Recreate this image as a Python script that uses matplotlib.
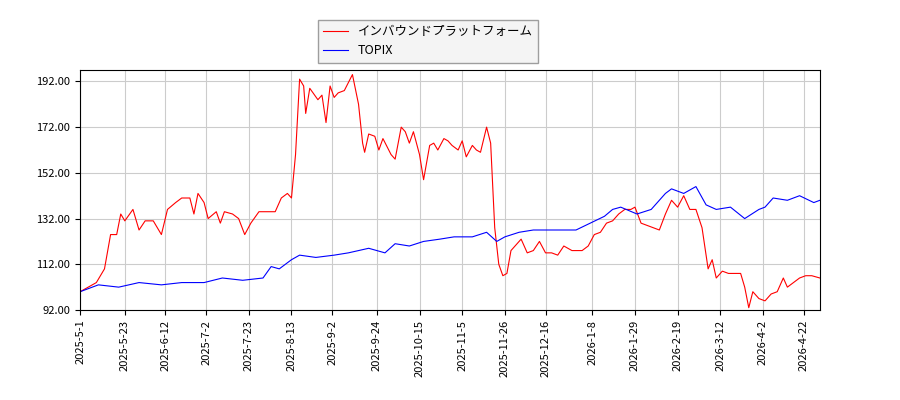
import matplotlib
matplotlib.use("Agg")
import matplotlib.pyplot as plt
import matplotlib.dates as mdates
import pandas as pd

plt.rcParams['font.family'] = ['Noto Sans CJK JP', 'DejaVu Sans']

red_dates = ["2025-05-01","2025-05-05","2025-05-09","2025-05-13","2025-05-16","2025-05-19","2025-05-21","2025-05-23","2025-05-27","2025-05-30",
"2025-06-02","2025-06-06","2025-06-10","2025-06-13","2025-06-17","2025-06-20","2025-06-24","2025-06-26","2025-06-28","2025-07-01",
"2025-07-03","2025-07-07","2025-07-09","2025-07-11","2025-07-15","2025-07-18","2025-07-21","2025-07-24","2025-07-28","2025-08-01",
"2025-08-05","2025-08-08","2025-08-11","2025-08-13","2025-08-15","2025-08-17","2025-08-19","2025-08-20","2025-08-22","2025-08-26",
"2025-08-28","2025-08-30","2025-09-01","2025-09-03","2025-09-05","2025-09-08","2025-09-12","2025-09-15","2025-09-17","2025-09-18",
"2025-09-20","2025-09-23","2025-09-25","2025-09-27","2025-10-01","2025-10-03","2025-10-06","2025-10-08","2025-10-10","2025-10-12",
"2025-10-15","2025-10-17","2025-10-20","2025-10-22","2025-10-24","2025-10-27","2025-10-29","2025-10-31","2025-11-03","2025-11-05",
"2025-11-07","2025-11-10","2025-11-12","2025-11-14","2025-11-17","2025-11-19","2025-11-21","2025-11-23","2025-11-25","2025-11-27",
"2025-11-29","2025-12-01","2025-12-04","2025-12-07","2025-12-10","2025-12-13","2025-12-16","2025-12-19","2025-12-22","2025-12-25",
"2025-12-29","2026-01-03","2026-01-06","2026-01-09","2026-01-12","2026-01-15","2026-01-18","2026-01-21","2026-01-24","2026-01-27",
"2026-01-29","2026-02-01","2026-02-04","2026-02-07","2026-02-10","2026-02-13","2026-02-16","2026-02-19","2026-02-22","2026-02-25",
"2026-02-28","2026-03-03","2026-03-06","2026-03-08","2026-03-10","2026-03-13","2026-03-16","2026-03-19","2026-03-22","2026-03-24",
"2026-03-26","2026-03-28","2026-03-31","2026-04-03","2026-04-06","2026-04-09","2026-04-12","2026-04-14","2026-04-17","2026-04-20",
"2026-04-23","2026-04-26","2026-04-30"]
red_values = [100,102,104,110,125,125,134,131,136,127,
131,131,125,136,139,141,141,134,143,139,
132,135,130,135,134,132,125,130,135,135,
135,141,143,141,160,193,190,178,189,184,
186,174,190,185,187,188,195,182,165,161,
169,168,162,167,160,158,172,170,165,170,
160,149,164,165,162,167,166,164,162,166,
159,164,162,161,172,165,128,112,107,108,
118,120,123,117,118,122,117,117,116,120,
118,118,120,125,126,130,131,134,136,136,
137,130,129,128,127,134,140,137,142,136,
136,128,110,114,106,109,108,108,108,102,
93,100,97,96,99,100,106,102,104,106,
107,107,106]

blue_dates = ["2025-05-01","2025-05-10","2025-05-20","2025-05-30","2025-06-10","2025-06-20","2025-07-01","2025-07-10","2025-07-20","2025-07-30",
"2025-08-03","2025-08-07","2025-08-13","2025-08-17","2025-08-25","2025-09-03","2025-09-10","2025-09-20","2025-09-28","2025-10-03",
"2025-10-10","2025-10-17","2025-10-25","2025-11-01","2025-11-10","2025-11-17","2025-11-22","2025-11-26","2025-12-03","2025-12-10",
"2025-12-17","2025-12-24","2025-12-31","2026-01-07","2026-01-14","2026-01-18","2026-01-22","2026-01-30","2026-02-06","2026-02-13",
"2026-02-16","2026-02-22","2026-02-28","2026-03-05","2026-03-10","2026-03-17","2026-03-24","2026-03-31","2026-04-03","2026-04-07",
"2026-04-14","2026-04-20","2026-04-27","2026-04-30"]
blue_values = [100,103,102,104,103,104,104,106,105,106,
111,110,114,116,115,116,117,119,117,121,
120,122,123,124,124,126,122,124,126,127,
127,127,127,130,133,136,137,134,136,143,
145,143,146,138,136,137,132,136,137,141,
140,142,139,140]

tick_labels = ["2025-5-1","2025-5-23","2025-6-12","2025-7-2","2025-7-23","2025-8-13","2025-9-2","2025-9-24",
"2025-10-15","2025-11-5","2025-11-26","2025-12-16","2026-1-8","2026-1-29","2026-2-19","2026-3-12","2026-4-2","2026-4-22"]

fig = plt.figure(figsize=(9, 4), dpi=100)
ax = fig.add_axes([0.089, 0.225, 0.822, 0.60])
ax.plot(pd.to_datetime(red_dates), red_values, color='red', lw=0.8, label='インバウンドプラットフォーム')
ax.plot(pd.to_datetime(blue_dates), blue_values, color='blue', lw=0.8, label='TOPIX')
ax.set_xlim(pd.Timestamp("2025-05-01"), pd.Timestamp("2026-04-30"))
ax.set_ylim(92, 197)
ax.set_yticks([92, 112, 132, 152, 172, 192])
ax.yaxis.set_major_formatter(matplotlib.ticker.FormatStrFormatter('%.2f'))
ticks = pd.to_datetime(tick_labels)
ax.set_xticks(ticks)
ax.set_xticklabels(tick_labels, rotation=90, fontsize=8)
ax.tick_params(axis='y', labelsize=8)
ax.grid(True, color='#cccccc', lw=0.8)
fig.legend(loc='upper center', bbox_to_anchor=(0.475, 0.965), fontsize=9, facecolor='#f2f2f2', edgecolor='#888888', fancybox=False)
fig.savefig("out.png")
